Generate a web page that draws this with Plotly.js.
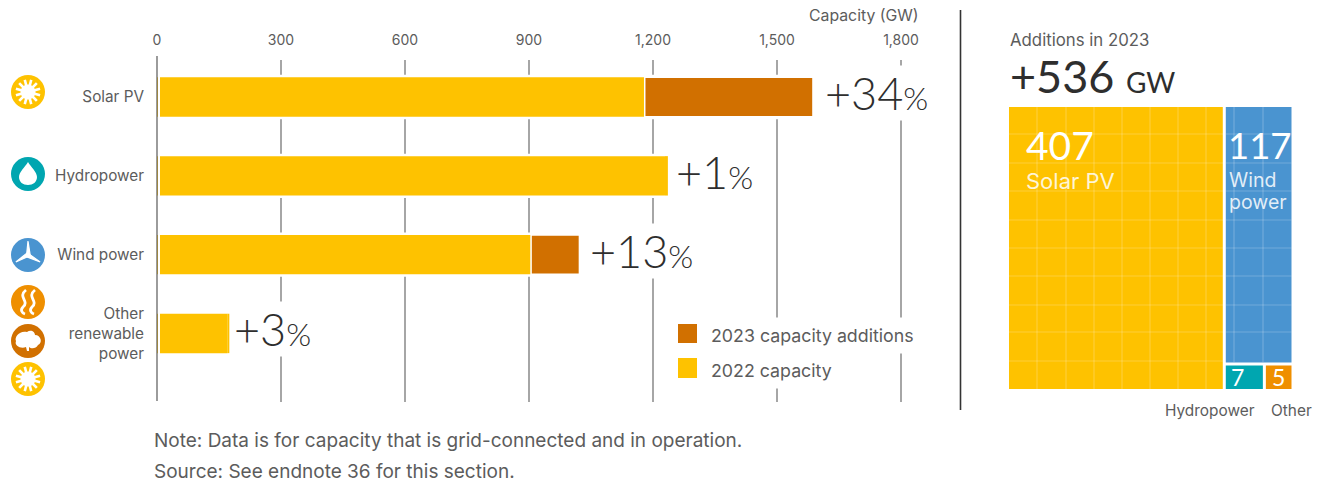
<!DOCTYPE html>
<html>
<head>
<meta charset="utf-8">
<script src="https://cdn.plot.ly/plotly-3.0.1.min.js"></script>
<style>html,body{margin:0;padding:0;background:#fff}#chart{width:1326px;height:483px}</style>
</head>
<body>
<div id="chart"></div>
<script>
// Global renewable capacity by technology (GW)
const technologies = ['Solar PV', 'Hydropower', 'Wind power', 'Other<br>renewable<br>power'];
const capacity2022 = [1180, 1229, 905, 170];
const additions2023 = [407, 7, 117, 5];
const growthLabels = ['+34', '+1', '+13', '+3'];
const capacityTicks = [0, 300, 600, 900, 1200, 1500, 1800];

// Breakdown of the 2023 additions
const tileNames = ['Solar PV', 'Wind power', 'Hydropower', 'Other'];
const tileValues = [407, 117, 7, 5];
const additionsTotal = 536;

const W = 1326, H = 483;
const YELLOW = '#FEC200', BROWN = '#D17000', TEAL = '#00A6B0', BLUE = '#4A94D0', ORANGE = '#EF8F00';
const TXT = '#5c5c5c', DARK = '#2e2e2e';
const FONT = 'Inter, "Open Sans", sans-serif';
const BIG = 'Lato, sans-serif';

const px = x => x / W;
const py = y => 1 - y / H;
const totals = capacity2022.map((v, i) => v + additions2023[i]);
// Very small additions blend into the bar instead of showing as a separate sliver
const additionColors = additions2023.map(v => v < 20 ? YELLOW : BROWN);
const additionEdges = additions2023.map(v => v < 20 ? 0 : 1.5);

const traces = [
  // white band behind each bar keeps the gridlines clear of it
  {type: 'bar', orientation: 'h', y: technologies, x: totals, width: 0.5,
   marker: {color: '#fff', line: {color: '#fff', width: 5}}, hoverinfo: 'skip', showlegend: false},
  {type: 'bar', orientation: 'h', name: '2022 capacity', y: technologies, x: capacity2022, width: 0.5,
   marker: {color: YELLOW, line: {width: 0}}, showlegend: false},
  {type: 'bar', orientation: 'h', name: '2023 capacity additions', y: technologies, x: additions2023,
   base: capacity2022, width: 0.5,
   marker: {color: additionColors, line: {color: '#fff', width: additionEdges}}, showlegend: false},
  {type: 'treemap', labels: tileNames, parents: tileNames.map(() => ''), values: tileValues,
   textinfo: 'none', hoverinfo: 'label+value', sort: true,
   tiling: {pad: 3, packing: 'squarify'},
   marker: {colors: [YELLOW, BLUE, TEAL, ORANGE], line: {width: 0}, pad: {t: 0, l: 0, r: 0, b: 0}},
   pathbar: {visible: false},
   domain: {x: [px(1009), px(1291.5)], y: [py(389), py(107)]}}
];

const shapes = [];
const annotations = [];

function text(x, y, str, size, opts) {
  annotations.push(Object.assign({xref: 'paper', yref: 'paper', x: px(x), y: py(y), text: str,
    showarrow: false, xanchor: 'left', yanchor: 'middle', borderpad: 0,
    font: {family: FONT, size: size, color: TXT}}, opts || {}));
}
function rect(x0, y0, x1, y1, color) {
  shapes.push({type: 'rect', xref: 'paper', yref: 'paper', x0: px(x0), x1: px(x1), y0: py(y0), y1: py(y1),
    fillcolor: color, line: {width: 0}, layer: 'above'});
}
function vline(x, y0, y1, color, width) {
  shapes.push({type: 'line', xref: 'paper', yref: 'paper', x0: px(x), x1: px(x), y0: py(y0), y1: py(y1),
    line: {color: color, width: width}, layer: 'above'});
}
function hline(y, x0, x1, color, width) {
  shapes.push({type: 'line', xref: 'paper', yref: 'paper', x0: px(x0), x1: px(x1), y0: py(y), y1: py(y),
    line: {color: color, width: width}, layer: 'above'});
}
function disc(cx, cy, r, color) {
  shapes.push({type: 'circle', xref: 'paper', yref: 'paper', x0: px(cx - r), x1: px(cx + r),
    y0: py(cy + r), y1: py(cy - r), fillcolor: color, line: {width: 0}, layer: 'above'});
}
// Icon outlines are written in pixels and converted to paper fractions here
function glyph(points, fill, stroke, width) {
  const d = points.map(p => typeof p === 'string' ? p : px(p[0]) + ',' + py(p[1])).join(' ');
  shapes.push({type: 'path', xref: 'paper', yref: 'paper', path: d,
    fillcolor: fill || 'rgba(0,0,0,0)', line: {color: stroke || 'rgba(0,0,0,0)', width: width || 0}, layer: 'above'});
}

function sunIcon(cx, cy) {
  disc(cx, cy, 17, YELLOW);
  disc(cx, cy, 7.5, '#fff');
  for (let k = 0; k < 12; k++) {
    const a = (k + 0.5) * Math.PI / 6;
    glyph(['M', [cx + 6 * Math.cos(a), cy + 6 * Math.sin(a)], 'L', [cx + 12.5 * Math.cos(a), cy + 12.5 * Math.sin(a)]],
      null, '#fff', 2.6);
  }
}
function dropIcon(cx, cy) {
  disc(cx, cy, 17, TEAL);
  glyph(['M', [cx, cy - 12], 'C', [cx + 3, cy - 7], [cx + 9, cy - 2], [cx + 9, cy + 3],
    'C', [cx + 9, cy + 8], [cx + 5, cy + 11], [cx, cy + 11],
    'C', [cx - 5, cy + 11], [cx - 9, cy + 8], [cx - 9, cy + 3],
    'C', [cx - 9, cy - 2], [cx - 3, cy - 7], [cx, cy - 12], 'Z'], '#fff');
}
function windIcon(cx, cy) {
  disc(cx, cy, 17, BLUE);
  for (const a of [-90, 30, 150]) {
    const r = a * Math.PI / 180, n = r + Math.PI / 2;
    glyph(['M', [cx + 2.2 * Math.cos(n), cy + 2.2 * Math.sin(n)],
      'L', [cx + 14 * Math.cos(r), cy + 14 * Math.sin(r)],
      'L', [cx - 1.4 * Math.cos(n), cy - 1.4 * Math.sin(n)], 'Z'], '#fff', '#fff', 1.2);
  }
}
function heatIcon(cx, cy) {
  disc(cx, cy, 17, ORANGE);
  for (const dx of [-5, 4]) {
    glyph(['M', [cx + dx + 3, cy - 12], 'C', [cx + dx - 6, cy - 5], [cx + dx + 7, cy - 1], [cx + dx, cy + 5],
      'C', [cx + dx - 3, cy + 8], [cx + dx - 1, cy + 11], [cx + dx + 2, cy + 12]], null, '#fff', 2.8);
  }
}
function biomassIcon(cx, cy) {
  disc(cx, cy, 17, BROWN);
  glyph(['M', [cx - 1, cy - 9], 'C', [cx + 3, cy - 12], [cx + 7, cy - 9], [cx + 7, cy - 6],
    'C', [cx + 13, cy - 6], [cx + 15, cy + 2], [cx + 10, cy + 4],
    'C', [cx + 8, cy + 8], [cx + 3, cy + 8], [cx + 1, cy + 6],
    'L', [cx + 1, cy + 10], 'L', [cx - 1, cy + 10], 'L', [cx - 2, cy + 6],
    'C', [cx - 7, cy + 8], [cx - 14, cy + 5], [cx - 12, cy],
    'C', [cx - 14, cy - 4], [cx - 8, cy - 11], [cx - 1, cy - 9], 'Z'], '#fff');
}
sunIcon(28, 92);
dropIcon(28, 174);
windIcon(28, 255);
heatIcon(28, 302);
biomassIcon(28, 341);
sunIcon(28, 379);

// Zero line, a sliver of white between it and the bars, and the panel divider
shapes.push({type: 'rect', xref: 'x', xsizemode: 'pixel', xanchor: 0, x0: 1, x1: 3, yref: 'paper', y0: py(60), y1: py(400),
  fillcolor: '#fff', line: {width: 0}, layer: 'above'});
vline(157, 56, 401, '#666', 1.3);
vline(960.5, 10, 410, '#333', 1.6);

// Growth labels at the end of each bar, with a hand-set gap for each one
const labelGaps = [11, 7, 10, 4];
technologies.forEach((t, i) => {
  annotations.push({xref: 'x', yref: 'y', x: totals[i], y: t, xanchor: 'left', yanchor: 'middle',
    xshift: labelGaps[i], yshift: 4, showarrow: false, bgcolor: '#fff', borderpad: 0,
    text: growthLabels[i] + '<span style="font-size:32px">%</span>',
    font: {family: BIG, size: 45, color: DARK, weight: 300}});
});

// Capacity axis caption
text(920, 16, 'Capacity (GW)', 15.8, {xanchor: 'right'});

// Legend
rect(678, 324, 697, 343, BROWN);
rect(678, 358, 697, 378, YELLOW);
text(703, 335, '2023 capacity additions', 17.8, {bgcolor: '#fff', borderpad: 7});
text(703, 370, '2022 capacity', 17.8, {bgcolor: '#fff', borderpad: 7});

// Footnotes
text(153, 440, 'Note: Data is for capacity that is grid-connected and in operation.', 19);
text(153, 471.5, 'Source: See endnote 36 for this section.', 19);

// Additions panel heading
text(1008.5, 40, 'Additions in 2023', 16.8);
text(1009, 76, '+' + additionsTotal + ' <span style="font-size:28px">GW</span>', 45,
  {font: {family: BIG, size: 45, color: DARK, weight: 400}});

// Faint squares laid over the tiles, one square per fixed amount of capacity
const cellLines = 'rgba(255,255,255,0.22)';
[1037, 1066, 1094, 1122, 1150, 1178, 1206].forEach(x => vline(x, 107, 389, cellLines, 1.2));
[1234, 1263].forEach(x => vline(x, 107, 362, cellLines, 1.2));
[134, 163, 191, 220, 248, 276, 305, 332, 361].forEach(y => hline(y, 1009, 1223, cellLines, 1.2));
[134, 163, 191, 220, 248, 276, 305, 332].forEach(y => hline(y, 1226, 1291.5, cellLines, 1.2));

// Tile labels
const onTile = {family: BIG, color: '#fff', weight: 400};
const tileCaption = size => ({family: FONT, size: size, color: 'rgba(255,255,255,0.85)'});
text(1025, 145, String(tileValues[0]), 39, {font: Object.assign({size: 39}, onTile)});
text(1025, 181, tileNames[0], 22, {font: tileCaption(22)});
text(1227, 145, String(tileValues[1]), 36.5, {font: Object.assign({size: 36.5}, onTile)});
text(1228, 180, 'Wind', 19.5, {font: tileCaption(19.5)});
text(1228, 202, 'power', 19.5, {font: tileCaption(19.5)});
text(1237, 377, String(tileValues[2]), 23, {font: Object.assign({size: 23}, onTile), xanchor: 'center'});
text(1278, 377, String(tileValues[3]), 23, {font: Object.assign({size: 23}, onTile), xanchor: 'center'});
text(1210, 410, tileNames[2], 15.4, {xanchor: 'center'});
text(1291.5, 410, tileNames[3], 15.4, {xanchor: 'center'});

const xPerPixel = 1800 / (901 - 157);
const layout = {
  width: W, height: H,
  margin: {l: 0, r: 0, t: 0, b: 0},
  paper_bgcolor: '#fff', plot_bgcolor: '#fff',
  barmode: 'overlay',
  showlegend: false,
  font: {family: FONT, color: TXT},
  xaxis: {
    domain: [px(157), px(945)], range: [0, (945 - 157) * xPerPixel], side: 'top', anchor: 'y',
    tickvals: capacityTicks, tickformat: ',', ticks: '', ticklen: 0, ticklabelstandoff: 11,
    tickfont: {family: FONT, size: 14, color: TXT},
    showgrid: true, gridcolor: '#a6a6a6', gridwidth: 1.5, zeroline: false, showline: false
  },
  yaxis: {
    domain: [py(402), py(60)], type: 'category', range: [3.87, -0.47],
    ticks: '', ticklen: 0, ticklabelstandoff: 12,
    tickfont: {family: FONT, size: 15.3, color: TXT},
    showgrid: false, zeroline: false, showline: false
  },
  shapes: shapes,
  annotations: annotations
};

Plotly.newPlot('chart', traces, layout, {displayModeBar: false, staticPlot: true});
</script>
</body>
</html>
